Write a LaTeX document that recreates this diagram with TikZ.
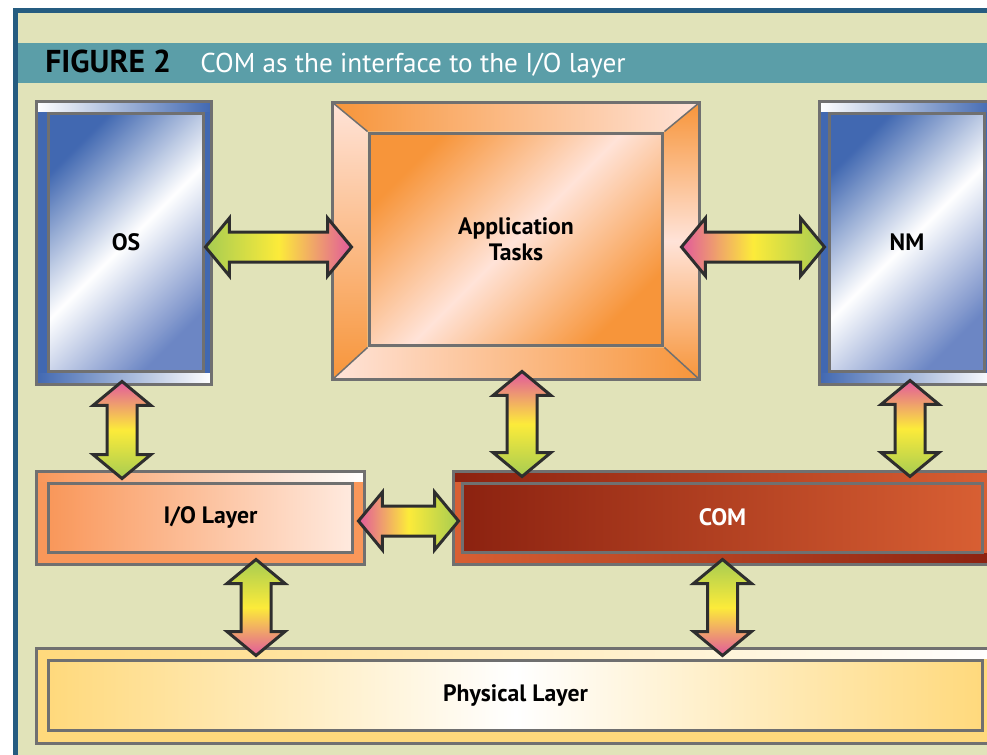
\documentclass[tikz,border=0pt]{standalone}
\usepackage{fontspec}
\setmainfont{PT Sans}
\usetikzlibrary{calc}
\definecolor{pagebg}{HTML}{E1E3B9}
\definecolor{frameblue}{HTML}{255C80}
\definecolor{titleteal}{HTML}{5B9EA8}
\definecolor{boxgray}{HTML}{707070}
\definecolor{arrline}{HTML}{2E2E2E}
\definecolor{agreen}{HTML}{A6CC52}
\definecolor{ayellow}{HTML}{FCEB3A}
\definecolor{apink}{HTML}{E2599C}
\definecolor{osblue}{HTML}{4168B1}
\definecolor{osblue2}{HTML}{6C86C4}
\definecolor{apporange}{HTML}{F7953A}
\definecolor{apppale}{HTML}{FFE3D8}
\definecolor{comdark}{HTML}{8C2210}
\definecolor{comlight}{HTML}{D85F33}
\definecolor{ioorange}{HTML}{F9975A}
\definecolor{iopale}{HTML}{FFEADF}
\definecolor{physyellow}{HTML}{FFD97C}
\pgfdeclarelayer{back}
\pgfdeclarelayer{bevel}
\pgfsetlayers{back,bevel,main}
\tikzset{box/.style={draw=boxgray, line width=0.06cm, inner sep=0pt, align=center, font=\fontsize{13.5}{15}\selectfont\bfseries},
  frame/.style={draw=boxgray, line width=0.06cm},
  harrow/.style={draw=arrline, line width=0.06cm,
    to path={-- ++(24,-29) -- ++(0,14) -- ([shift={(-24,-15)}]\tikztotarget) -- ++(0,-14) -- (\tikztotarget)
      -- ++(-24,29) -- ++(0,-14) -- ([shift={(24,15)}]\tikztostart) -- ++(0,14) -- cycle}},
  varrow/.style={draw=arrline, line width=0.06cm,
    to path={-- ++(29,24) -- ++(-14,0) -- ([shift={(15,-24)}]\tikztotarget) -- ++(14,0) -- (\tikztotarget)
      -- ++(-29,-24) -- ++(14,0) -- ([shift={(-15,24)}]\tikztostart) -- ++(-14,0) -- cycle}}}

\begin{document}
\begin{tikzpicture}[x=0.02cm,y=-0.02cm]
   \useasboundingbox (0,0) rectangle (987,754);
   \begin{pgfonlayer}{back}
    \fill[white] (0,0) rectangle (987,754);
    \draw[frameblue, line width=0.1cm, fill=pagebg] (15.5,10.5) rectangle (1010,780);
    \fill[titleteal] (18,43) rectangle (987,83);
   \end{pgfonlayer}
   \node[anchor=base west, inner sep=0pt, font=\fontsize{18}{20}\selectfont\bfseries] (fig) at (45,72) {FIGURE 2};
   \node[anchor=base west, inner sep=0pt, font=\fontsize{15.5}{18}\selectfont, text=white] (caption) at (200,72) {COM as the interface to the I/O layer};

   \node[box, minimum width=3.12cm, minimum height=5.18cm, top color=osblue, bottom color=osblue2, middle color=white, shading angle=45] (os) at (126,242.5) {OS};
   \node[box, minimum width=3.12cm, minimum height=5.18cm, top color=osblue, bottom color=osblue2, middle color=white, shading angle=45] (nm) at (907,242.5) {NM};
   \node[box, minimum width=5.88cm, minimum height=4.26cm, top color=apporange, bottom color=apporange, middle color=apppale, shading angle=45] (app) at (516,239.5) {Application\\Tasks};
   \node[box, minimum width=6.1cm, minimum height=1.38cm, left color=ioorange, right color=iopale] (io) at (200.5,517.5) {\hspace{0.4cm}I/O Layer};
   \node[box, minimum width=10.42cm, minimum height=1.38cm, left color=comdark, right color=comlight, text=white] (com) at (722.5,517.5) {COM};
   \node[box, minimum width=18.7cm, minimum height=1.4cm, left color=physyellow, right color=physyellow, middle color=white] (phys) at (515.5,695) {Physical Layer};

   \begin{pgfonlayer}{bevel}
    \coordinate (osA) at ($(os.north west)+(-10,-10)$);
    \coordinate (osB) at ($(os.south east)+(6,11)$);
    \fill[osblue] (osA) rectangle (osB);
    \shade[left color=white, right color=osblue] (osA) rectangle (os.north -| osB);
    \shade[left color=osblue, right color=white] (osA |- os.south) rectangle (osB);
    \draw[frame] (osA) rectangle (osB);
    \coordinate (nmA) at ($(nm.north west)+(-8,-10)$);
    \coordinate (nmB) at ($(nm.south east)+(8,11)$);
    \fill[osblue] (nmA) rectangle (nmB);
    \shade[left color=white, right color=osblue] (nmA) rectangle (nm.north -| nmB);
    \shade[left color=osblue, right color=white] (nmA |- nm.south) rectangle (nmB);
    \draw[frame] (nmA) rectangle (nmB);
    \coordinate (apA) at ($(app.north west)+(-35,-29)$);
    \coordinate (apB) at ($(app.north east)+(35,-29)$);
    \coordinate (apC) at ($(app.south east)+(35,32)$);
    \coordinate (apD) at ($(app.south west)+(-35,32)$);
    \shade[left color=apporange, right color=apppale] (apA) -- (apB) -- (app.north east) -- (app.north west) -- cycle;
    \shade[top color=apppale, bottom color=apporange] (apA) -- (app.north west) -- (app.south west) -- (apD) -- cycle;
    \shade[top color=apporange, bottom color=apporange, middle color=apppale] (apB) -- (apC) -- (app.south east) -- (app.north east) -- cycle;
    \shade[left color=apppale, right color=apporange] (apD) -- (app.south west) -- (app.south east) -- (apC) -- cycle;
    \draw[boxgray, line width=0.03cm] (apA) -- (app.north west) (apB) -- (app.north east) (apC) -- (app.south east) (apD) -- (app.south west);
    \draw[frame] (apA) rectangle (apC);
    \coordinate (ioA) at ($(io.north west)+(-10,-10)$);
    \coordinate (ioB) at ($(io.south east)+(10,11)$);
    \fill[ioorange] (ioA) rectangle (ioB);
    \shade[left color=ioorange, right color=white] (ioA) rectangle (io.north -| ioB);
    \draw[frame] (ioA) rectangle (ioB);
    \coordinate (comA) at ($(com.north west)+(-7,-10)$);
    \coordinate (comB) at ($(com.south east)+(10,11)$);
    \fill[comlight] (comA) rectangle (comB);
    \shade[left color=comdark, right color=comlight] (comA) rectangle (com.north -| comB);
    \shade[left color=comlight, right color=comdark] (comA |- com.south) rectangle (comB);
    \draw[frame] (comA) rectangle (comB);
    \coordinate (phA) at ($(phys.north west)+(-10,-10)$);
    \coordinate (phB) at ($(phys.south east)+(10,12)$);
    \fill[physyellow] (phA) rectangle (phB);
    \shade[left color=physyellow, right color=white] (phA) rectangle (phys.north -| phB);
    \draw[frame] (phA) rectangle (phB);
   \end{pgfonlayer}

   \draw[harrow, left color=agreen, right color=apink, middle color=ayellow] ($(os.east)+(0,4.5)$) to ($(app.west)+(-16,7.5)$);
   \draw[harrow, left color=apink, right color=agreen, middle color=ayellow] ($(app.east)+(17,7.5)$) to ($(nm.west)+(-3,4.5)$);
   \draw[harrow, left color=apink, right color=agreen, middle color=ayellow] ($(io.east)+(4,3.5)$) to ($(com.west)+(-2,3.5)$);
   \draw[varrow, top color=apink, bottom color=agreen, middle color=ayellow] ($(os.south)+(-4,8)$) to ($(os.south |- io.north)+(-4,-3)$);
   \draw[varrow, top color=apink, bottom color=agreen, middle color=ayellow] ($(app.south)+(6,24)$) to ($(app.south |- com.north)+(6,-5)$);
   \draw[varrow, top color=apink, bottom color=agreen, middle color=ayellow] ($(nm.south)+(3,7)$) to ($(nm.south |- com.north)+(3,-5)$);
   \draw[varrow, top color=agreen, bottom color=apink, middle color=ayellow] ($(io.south)+(55.5,6)$) to ($(phys.north -| io.south)+(55.5,-3)$);
   \draw[varrow, top color=agreen, bottom color=apink, middle color=ayellow] ($(com.south)+(0,6)$) to ($(phys.north -| com.south)+(0,-3)$);
  \end{tikzpicture}
\end{document}
